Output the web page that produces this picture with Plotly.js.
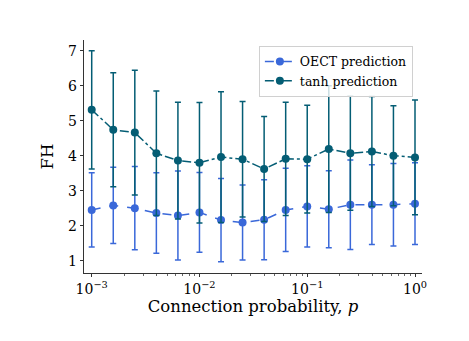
<!DOCTYPE html>
<html>
<head>
<meta charset="utf-8">
<script src="https://cdn.plot.ly/plotly-3.0.1.min.js"></script>
<style>
  html, body { margin: 0; padding: 0; background: #fff; }
  #chart { width: 469px; height: 341px; }
</style>
</head>
<body>
<div id="chart"></div>
<script>
// connection probability p = 10^-3 ... 10^0, 16 log-spaced points
const exponents = [-3, -2.8, -2.6, -2.4, -2.2, -2, -1.8, -1.6,
                   -1.4, -1.2, -1, -0.8, -0.6, -0.4, -0.2, 0];

const oectMean = [2.45, 2.58, 2.50, 2.36, 2.29, 2.38, 2.16, 2.09,
                  2.17, 2.45, 2.55, 2.47, 2.60, 2.60, 2.60, 2.63];
const oectStd = [1.06, 1.09, 1.19, 1.15, 1.27, 1.14, 1.19, 1.07,
                 1.14, 1.19, 1.16, 1.10, 1.28, 1.14, 1.18, 1.17];

const tanhMean = [5.31, 4.74, 4.66, 4.07, 3.86, 3.80, 3.96, 3.90,
                  3.62, 3.91, 3.90, 4.19, 4.07, 4.12, 4.00, 3.95];
const tanhStd = [1.69, 1.63, 1.78, 1.78, 1.67, 1.72, 1.87, 1.65,
                 1.50, 1.62, 1.54, 1.81, 1.63, 1.57, 1.43, 1.64];

const xTickVals = [0.001, 0.01, 0.1, 1];
const xTickText = ["10<sup>−3</sup>", "10<sup>−2</sup>", "10<sup>−1</sup>", "10<sup>0</sup>"];
const yTickVals = [1, 2, 3, 4, 5, 6, 7];

const probs = exponents.map(e => Math.pow(10, e));

// minor ticks at 2..9 of each decade
const minorVals = [];
xTickVals.forEach(d => {
  for (let m = 2; m <= 9; m++) {
    minorVals.push(d * m);
  }
});

function series(name, mean, std, color, dash) {
  return {
    x: probs,
    y: mean,
    name,
    type: "scatter",
    mode: "lines+markers",
    line: { color, width: 1.5, dash },
    marker: { color, size: 8 },
    error_y: {
      type: "data",
      array: std,
      visible: true,
      color,
      thickness: 1.5,
      width: 3
    }
  };
}

const traces = [
  series("OECT prediction", oectMean, oectStd, "#3a68d9", "dash"),
  series("tanh prediction", tanhMean, tanhStd, "#045d74", "dashdot")
];

const font = { family: "DejaVu Serif, serif", color: "#000" };

const layout = {
  width: 469,
  height: 341,
  margin: { l: 84, r: 47, t: 40, b: 68 },
  paper_bgcolor: "#fff",
  plot_bgcolor: "#fff",
  font: Object.assign({ size: 12 }, font),
  showlegend: true,
  legend: {
    x: 0.973,
    y: 0.975,
    xanchor: "right",
    yanchor: "top",
    bgcolor: "rgba(255,255,255,0.8)",
    bordercolor: "#d0d0d0",
    borderwidth: 1,
    font: Object.assign({ size: 12.5 }, font),
    itemwidth: 30,
    tracegroupgap: 0
  },
  xaxis: {
    type: "log",
    range: [-3.0715, 0.065],
    tickvals: xTickVals,
    ticktext: xTickText,
    ticks: "outside",
    ticklen: 3.5,
    tickwidth: 0.8,
    tickcolor: "#000",
    minor: {
      tickmode: "array",
      tickvals: minorVals,
      ticks: "outside",
      ticklen: 2,
      tickwidth: 0.6,
      tickcolor: "#000",
      showgrid: false
    },
    showline: true,
    linecolor: "#000",
    linewidth: 0.8,
    mirror: false,
    showgrid: false,
    zeroline: false,
    tickfont: Object.assign({ size: 14 }, font),
    title: {
      text: "Connection probability, <i>p</i>",
      font: Object.assign({ size: 16.5 }, font),
      standoff: 4
    }
  },
  yaxis: {
    range: [0.649, 7.305],
    tickvals: yTickVals,
    ticks: "outside",
    ticklen: 3.5,
    tickwidth: 0.8,
    tickcolor: "#000",
    showline: true,
    linecolor: "#000",
    linewidth: 0.8,
    mirror: false,
    showgrid: false,
    zeroline: false,
    tickfont: Object.assign({ size: 14 }, font),
    title: {
      text: "FH",
      font: Object.assign({ size: 16.5 }, font),
      standoff: 10
    }
  }
};

Plotly.newPlot("chart", traces, layout, { displayModeBar: false, staticPlot: true });
</script>
</body>
</html>
